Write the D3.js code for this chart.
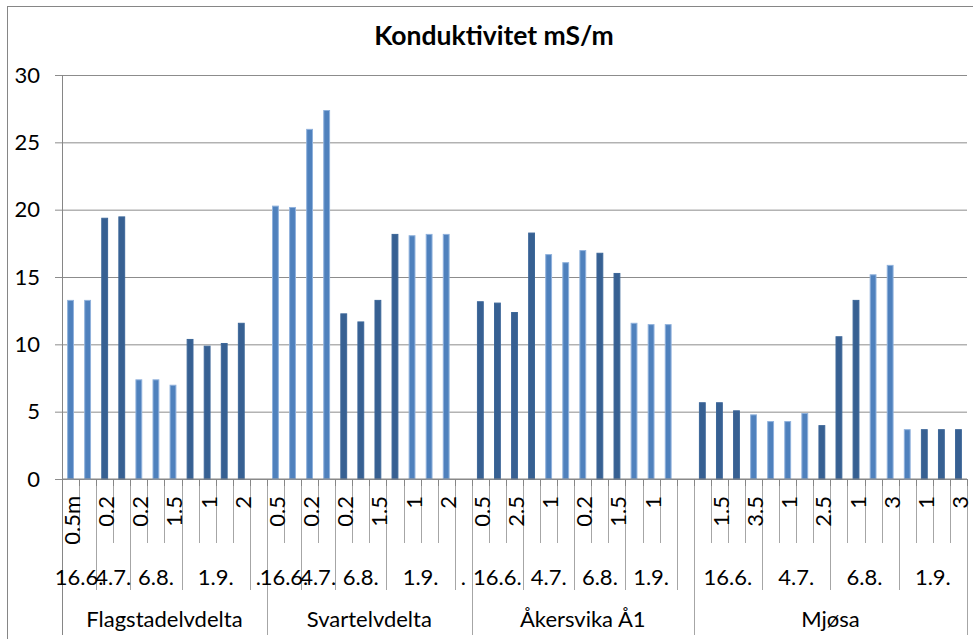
<!DOCTYPE html>
<html lang="no">
  <head>
    <meta charset="utf-8">
    <title>Konduktivitet mS/m</title>
    <script src="https://d3js.org/d3.v7.min.js"></script>
    <style>
      body {
        margin: 0;
        background-color: white;
      }
      svg {
        display: block;
        background-color: white;
        font-family: Lato, "Open Sans", sans-serif;
      }
      .sep {
        stroke: #a6a6a6;
      }
    </style>
  </head>
  <body>
    <script>
      var w = 973;
      var h = 639;

      // one entry per category slot (53 slots); "" = label not shown / no bar
      var depths = [
        "0.5m", "", "0.2", "", "0.2", "", "1.5", "", "1", "", "2", "",
        "0.5", "", "0.2", "", "0.2", "", "1.5", "", "1", "", "2", "",
        "0.5", "", "2.5", "", "1", "", "0.2", "", "1.5", "", "1", "", "",
        "", "1.5", "", "3.5", "", "1", "", "2.5", "", "1", "", "3", "", "1", "", "3"
      ];
      var darkValues = [
        null, null, 19.4, 19.5, null, null, null, 10.4, 9.9, 10.1, 11.6, null,
        null, null, null, null, 12.3, 11.7, 13.3, 18.2, null, null, null, null,
        13.2, 13.1, 12.4, 18.3, null, null, null, 16.8, 15.3, null, null, null, null,
        5.7, 5.7, 5.1, null, null, null, null, 4.0, 10.6, 13.3, null, null, null, 3.7, 3.7, 3.7
      ];
      var lightValues = [
        13.3, 13.3, null, null, 7.4, 7.4, 7.0, null, null, null, null, null,
        20.3, 20.2, 26.0, 27.4, null, null, null, null, 18.1, 18.2, 18.2, null,
        null, null, null, null, 16.7, 16.1, 17.0, null, null, 11.6, 11.5, 11.5, null,
        null, null, null, 4.8, 4.3, 4.3, 4.9, null, null, null, 15.2, 15.9, 3.7, null, null, null
      ];

      // date groups: label and number of slots
      var dates = [
        ["16.6.", 2], ["4.7.", 2], ["6.8.", 3], ["1.9.", 4], [".", 1],
        ["16.6.", 2], ["4.7.", 2], ["6.8.", 3], ["1.9.", 4], [".", 1],
        ["16.6.", 3], ["4.7.", 3], ["6.8.", 3], ["1.9.", 3], ["", 1],
        ["16.6.", 4], ["4.7.", 4], ["6.8.", 4], ["1.9.", 4]
      ];
      var locations = [
        ["Flagstadelvdelta", 12], ["Svartelvdelta", 12], ["Åkersvika Å1", 13], ["Mjøsa", 16]
      ];
      var yTicks = [0, 5, 10, 15, 20, 25, 30];

      // note: "top" is taken by window.top, so prefixed names
      var pLeft = 62, pRight = 967, pTop = 75, pBottom = 479;

      var svg = d3.select("body").append("svg")
        .attr("width", w)
        .attr("height", h);

      // chart area border
      svg.append("rect")
        .attr("x", 7.5).attr("y", 6.5)
        .attr("width", 1000).attr("height", 700)
        .attr("fill", "none").attr("stroke", "#868686");

      svg.append("text")
        .attr("x", 494).attr("y", 45)
        .attr("text-anchor", "middle")
        .attr("font-weight", "bold")
        .attr("font-size", 26.5)
        .text("Konduktivitet mS/m");

      var x = d3.scaleBand()
        .domain(d3.range(depths.length))
        .range([pLeft, pRight])
        .paddingInner(0.6)
        .paddingOuter(0.3);
      var step = x.step();

      var y = d3.scaleLinear().domain([0, 30]).range([pBottom, pTop]);

      // gridlines + y axis
      var yAxis = d3.axisLeft(y).tickValues(yTicks).tickSize(pRight - pLeft + 7).tickPadding(15);
      var ga = svg.append("g")
        .attr("transform", "translate(" + pRight + ",0)")
        .call(yAxis);
      ga.select(".domain").remove();
      ga.selectAll(".tick line").attr("stroke", "#8c8c8c");
      ga.selectAll(".tick text")
        .attr("font-size", 22)
        .attr("font-family", "Lato, sans-serif")
        .attr("fill", "#000")
        .attr("x", -(pRight - pLeft) - 22);

      // bars
      var bars = svg.append("g");
      function drawSeries(vals, fill, edge) {
        bars.selectAll(null)
          .data(vals.map(function(v, i) { return {i: i, v: v}; }).filter(function(d) { return d.v != null; }))
          .enter().append("rect")
          .attr("x", function(d) { return x(d.i) + 0.5; })
          .attr("width", x.bandwidth() - 1)
          .attr("y", function(d) { return y(d.v) + 0.5; })
          .attr("height", function(d) { return y(0) - y(d.v) - 0.5; })
          .attr("fill", fill)
          .attr("stroke", edge)
          .attr("stroke-width", 1);
      }
      drawSeries(darkValues, "#376092", "#3d6799");
      drawSeries(lightValues, "#4f81bd", "#8fb1dc");

      // category axis line
      svg.append("line")
        .attr("x1", pLeft).attr("x2", pRight)
        .attr("y1", pBottom).attr("y2", pBottom)
        .attr("stroke", "#868686");

      // separator lines below the axis
      var dateEdges = [0], locEdges = [0], acc = 0;
      dates.forEach(function(d) { acc += d[1]; dateEdges.push(acc); });
      acc = 0;
      locations.forEach(function(d) { acc += d[1]; locEdges.push(acc); });

      var seps = svg.append("g");
      d3.range(depths.length + 1).forEach(function(i) {
        var xx = Math.round(pLeft + i * step) + 0.5;
        var y2 = 543;
        if (dateEdges.indexOf(i) >= 0) y2 = 590;
        if (locEdges.indexOf(i) >= 0) y2 = 635;
        seps.append("line")
          .attr("class", "sep")
          .attr("x1", xx).attr("x2", xx)
          .attr("y1", pBottom).attr("y2", y2);
        seps.append("line")
          .attr("x1", xx).attr("x2", xx)
          .attr("y1", pBottom).attr("y2", pBottom + 7)
          .attr("stroke", "#868686");
      });

      // y axis line
      svg.append("line")
        .attr("x1", pLeft + 0.5).attr("x2", pLeft + 0.5)
        .attr("y1", pTop).attr("y2", 635)
        .attr("stroke", "#868686");

      // depth labels (rotated)
      svg.append("g").selectAll("text")
        .data(depths.map(function(d, i) { return {i: i, t: d}; }).filter(function(d) { return d.t !== ""; }))
        .enter().append("text")
        .attr("transform", function(d) {
          return "translate(" + (x(d.i) + x.bandwidth() / 2 + 1) + ",496) rotate(-90)";
        })
        .attr("text-anchor", "end")
        .attr("dominant-baseline", "central")
        .attr("font-size", 22)
        .text(function(d) { return d.t; });

      // date labels
      svg.append("g").selectAll("text")
        .data(dates)
        .enter().append("text")
        .attr("x", function(d, i) { return pLeft + (dateEdges[i] + d[1] / 2) * step; })
        .attr("y", 585)
        .attr("text-anchor", "middle")
        .attr("font-size", 22)
        .text(function(d) { return d[0]; });

      // location labels
      svg.append("g").selectAll("text")
        .data(locations)
        .enter().append("text")
        .attr("x", function(d, i) { return pLeft + (locEdges[i] + d[1] / 2) * step; })
        .attr("y", 627)
        .attr("text-anchor", "middle")
        .attr("font-size", 22)
        .text(function(d) { return d[0]; });
    </script>
  </body>
</html>
